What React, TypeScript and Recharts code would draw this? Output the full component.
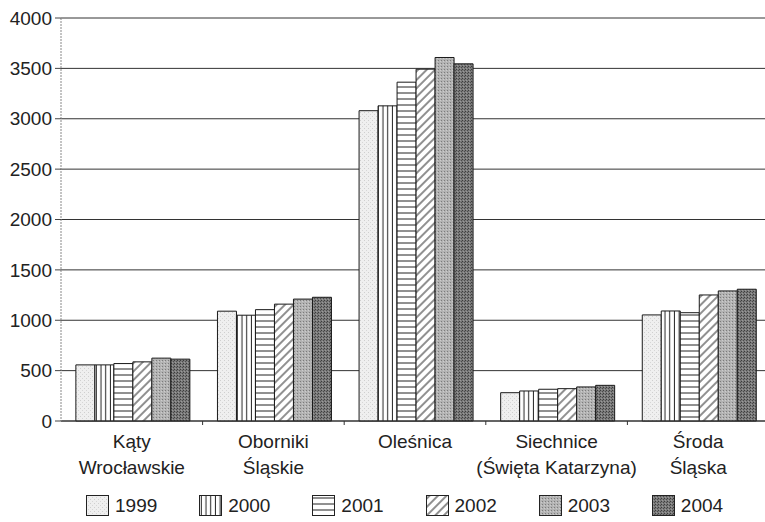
import React from 'react';
import { BarChart, Bar, XAxis, YAxis, CartesianGrid, Legend } from 'recharts';

const categories = ['Kąty\nWrocławskie', 'Oborniki\nŚląskie', 'Oleśnica', 'Siechnice\n(Święta Katarzyna)', 'Środa\nŚląska'];
const years = ['1999', '2000', '2001', '2002', '2003', '2004'];
const v1999 = [557, 1090, 3080, 281, 1053];
const v2000 = [557, 1050, 3128, 298, 1092];
const v2001 = [570, 1105, 3363, 315, 1075];
const v2002 = [587, 1160, 3492, 321, 1251];
const v2003 = [624, 1210, 3608, 338, 1291];
const v2004 = [614, 1228, 3545, 354, 1308];
const yTicks = [0, 500, 1000, 1500, 2000, 2500, 3000, 3500, 4000];

const series = [v1999, v2000, v2001, v2002, v2003, v2004];
const data = categories.map((c, i) => {
  const row: any = { name: c };
  years.forEach((y, k) => { row[y] = series[k][i]; });
  return row;
});

const FONT = '"Liberation Sans", Arial, Helvetica, sans-serif';

function Patterns({ prefix }: { prefix: string }) {
  return (
    <defs>
      <pattern id={`${prefix}1999`} width="4" height="4" patternUnits="userSpaceOnUse">
        <rect width="4" height="4" fill="#efefef" />
        <rect x="0" y="0" width="1" height="1" fill="#cfcfcf" />
        <rect x="2" y="2" width="1" height="1" fill="#d6d6d6" />
      </pattern>
      <pattern id={`${prefix}2000`} width="4.7" height="10" patternUnits="userSpaceOnUse">
        <rect width="4.7" height="10" fill="#ffffff" />
        <line x1="2.3" y1="0" x2="2.3" y2="10" stroke="#222" strokeWidth="1" />
      </pattern>
      <pattern id={`${prefix}2001`} width="10" height="6" patternUnits="userSpaceOnUse">
        <rect width="10" height="6" fill="#ffffff" />
        <line x1="0" y1="3" x2="10" y2="3" stroke="#222" strokeWidth="1" />
      </pattern>
      <pattern id={`${prefix}2002`} width="6" height="6" patternUnits="userSpaceOnUse" patternTransform="rotate(45)">
        <rect width="6" height="6" fill="#ffffff" />
        <line x1="3" y1="0" x2="3" y2="6" stroke="#222" strokeWidth="1" />
      </pattern>
      <pattern id={`${prefix}2003`} width="3" height="3" patternUnits="userSpaceOnUse">
        <rect width="3" height="3" fill="#b3b3b3" />
        <rect x="0" y="0" width="1" height="1" fill="#7c7c7c" />
        <rect x="2" y="1" width="1" height="1" fill="#cccccc" />
      </pattern>
      <pattern id={`${prefix}2004`} width="3" height="3" patternUnits="userSpaceOnUse">
        <rect width="3" height="3" fill="#7a7a7a" />
        <rect x="0" y="0" width="1" height="1" fill="#3c3c3c" />
        <rect x="2" y="1" width="1" height="1" fill="#4c4c4c" />
        <rect x="1" y="2" width="1" height="1" fill="#999999" />
      </pattern>
    </defs>
  );
}

function XTick(props: any) {
  const { x, y, payload, index, visibleTicksCount, width } = props;
  const lines = String(payload.value).split('\n');
  const band = width / (visibleTicksCount || categories.length);
  return (
    <g>
      {index < categories.length - 1 && (
        <line x1={x + band / 2} y1={y} x2={x + band / 2} y2={y + 4} stroke="#333" strokeWidth={1} />
      )}
      <text x={x} y={y} textAnchor="middle" fontFamily={FONT} fontSize={19} fill="#222">
        {lines.map((l, i) => (
          <tspan key={i} x={x} dy={i === 0 ? 27 : 26}>{l}</tspan>
        ))}
      </text>
    </g>
  );
}

function LegendContent() {
  return (
    <div style={{ display: 'flex', flexDirection: 'row', paddingLeft: 86, height: 24, alignItems: 'center', fontFamily: FONT, fontSize: 19, color: '#222' }}>
      {years.map((y) => (
        <div key={y} style={{ display: 'flex', alignItems: 'center', width: 118.5 }}>
          <svg width={24} height={22} style={{ display: 'block' }}>
            <Patterns prefix="lg" />
            <rect x={0.5} y={0.5} width={22} height={20} fill={`url(#lg${y})`} stroke="#222" strokeWidth={1} />
          </svg>
          <span style={{ marginLeft: 5, lineHeight: '22px' }}>{y}</span>
        </div>
      ))}
    </div>
  );
}

export default function App() {
  return (
    <div style={{ position: 'absolute', left: 0, top: 0, width: 765, height: 522, overflow: 'hidden', background: '#fff' }}>
      <BarChart
        width={775}
        height={522}
        data={data}
        margin={{ top: 18, right: 6, left: 0, bottom: 17 }}
        barCategoryGap="10.5%"
        barGap={0}
      >
        <Patterns prefix="bp" />
        <CartesianGrid vertical={false} stroke="#333" strokeWidth={1} />
        <XAxis
          dataKey="name"
          height={60}
          interval={0}
          tickSize={0}
          tickMargin={0}
          tick={<XTick />}
          axisLine={{ stroke: '#333', strokeWidth: 1 }}
          tickLine={false}
        />
        <YAxis
          width={61}
          domain={[0, 4000]}
          ticks={yTicks}
          interval={0}
          tickSize={6}
          tickMargin={3}
          tick={{ fontFamily: FONT, fontSize: 19, fill: '#222' }}
          axisLine={{ stroke: '#888', strokeWidth: 1, strokeDasharray: '2 1' }}
          tickLine={{ stroke: '#444' }}
        />
        <Legend
          verticalAlign="bottom"
          content={<LegendContent />}
          wrapperStyle={{ bottom: 4, left: 0, width: 765, height: 24 }}
        />
        {years.map((y) => (
          <Bar key={y} dataKey={y} fill={`url(#bp${y})`} stroke="#1a1a1a" strokeWidth={1} isAnimationActive={false} />
        ))}
      </BarChart>
    </div>
  );
}
